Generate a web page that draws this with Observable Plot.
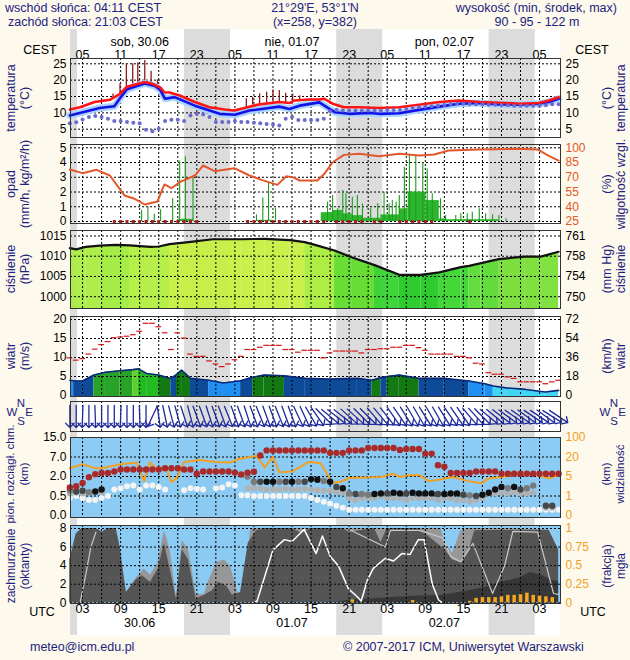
<!DOCTYPE html>
<html lang="pl">
<head>
<meta charset="utf-8">
<script src="https://cdn.jsdelivr.net/npm/d3@7"></script>
<script src="https://cdn.jsdelivr.net/npm/@observablehq/plot@0.6"></script>
<style>
html,body{margin:0;padding:0;background:#fdf9ec;}
#root{position:relative;width:630px;height:660px;background:#fdf9ec;overflow:hidden;font-family:"Liberation Sans",Arial,Helvetica,sans-serif;}
.t{position:absolute;white-space:nowrap;color:#1c2280;font-size:12.5px;line-height:1;}
</style>
</head>
<body>
<div id="root"></div>
<script>
// ---------------- DATA (hours = UTC hours since 30.06 00:00) ----------------
const hours = d3.range(1, 79);
const labelHours = [3, 9, 15, 21, 27, 33, 39, 45, 51, 57, 63, 69, 75];
const cestLabels = ["05","11","17","23","05","11","17","23","05","11","17","23","05"];
const utcLabels  = ["03","09","15","21","03","09","15","21","03","09","15","21","03"];
const gridHours = [3,6,9,12,15,18,21,24,27,30,33,36,39,42,45,48,51,54,57,60,63,66,69,72,75];
const dayHours = [12, 36, 60];
const dayNamesTop = ["sob, 30.06", "nie, 01.07", "pon, 02.07"];
const dayNamesBottom = ["30.06", "01.07", "02.07"];
const nightStart = [1.1, 19.05, 43.05, 67.05];
const nightEnd   = [2.2, 26.3, 50.3, 74.3];

// temperature
const tempHours = [1,2.6,4.9,7.3,8.9,10,12.8,14,15.2,15.9,16.7,18.3,20.7,23,25.4,26.9,28.5,30.9,34,35.6,36.4,38.7,40.3,41.1,42.4,44.2,46.6,49.7,52.9,56,59.2,62.3,65.5,68.6,71.8,74.9,76.5,78];
const tempRed = [11.0,11.7,13.3,14.0,15.8,18.0,19.4,18.9,17.8,16.3,16.2,15.3,13.3,11.7,11.0,10.7,11.5,12.6,13.3,13.0,13.8,14.1,14.1,14.3,12.8,11.7,11.7,11.5,11.7,12.5,13.3,13.8,13.3,13.1,12.8,13.0,13.8,14.8];
const blueHours = [1,5.7,8,8.9,10,12.8,14.4,15.2,16,17.5,20.7,24.6,27,29.3,34,35.6,37.2,40.3,41.9,42.7,45,48.2,49.7,52.9,56,59.2,62.3,65.5,68.6,71.8,74.9,76.5,78];
const tempBlue = [9.2,11.5,12.0,14.5,17.2,19.0,18.2,17.1,14.3,14.8,12.2,9.7,9.4,10.7,11.9,11.2,12.2,13.2,11.2,10.2,9.7,10.0,9.7,9.9,10.9,11.9,12.8,13.0,12.6,12.5,12.8,13.3,14.3];
const dewPoint = [6.8,7.1,8.0,8.7,9.0,8.7,8.2,7.5,7.5,7.2,7.0,6.8,4.8,4.4,5.1,7.5,7.9,7.9,7.5,9.2,
  9.7,9.5,8.7,7.2,7.2,7.2,7.5,7.2,7.2,7.0,6.8,6.6,6.4,6.1,8.2,8.7,7.8,7.8,7.8,7.8,
  8.2,10.5,10.9,10.7,10.7,10.7,10.7,10.7,10.7,10.7,10.9,10.9,10.9,11.2,11.5,11.7,11.9,12.0,12.2,12.4,
  12.6,12.8,12.8,12.7,12.6,12.6,12.5,12.5,12.4,12.3,12.2,12.2,12.2,12.2,12.2,12.3,12.6,12.6];
const stickHours = [7.8,8.9,9.9,10.9,11.7,12.8,13.8,14.8,28.8,29.8,30.9,32,33,34,35,36.1,37.2];
const stickBase  = [14.3,15.8,17.8,18.8,19.2,19.4,19.1,18.6,11.7,12.3,12.7,13.0,13.2,13.3,13.1,13.6,13.9];
const stickTop   = [15.8,18.9,25,25,25.3,26,22.7,20.1,14.3,14.8,15.8,16.3,17.0,16.8,16.0,15.8,15.2];
const tempTicks = [5, 10, 15, 20, 25];

// precipitation & humidity
const humHours = [1,3,5.2,7.3,9.6,11.2,12.8,14.8,15.9,17,18.3,20.7,22,23.8,26.9,29.3,31.2,33.7,35.1,36.1,37.2,40,41.1,42.4,44.2,46.6,49.7,52.9,56,58.4,60.7,65.5,71.8,74.7,76.3,78];
const humidity = [77.9,74.2,77.6,71.8,51.5,48.1,42.3,45.4,62.7,58.9,65,71.8,82,76.2,79.3,71.8,67.4,62.3,71.1,70.1,66.7,66.7,73.5,85.3,92.8,93.9,91.5,93.9,92.2,93.2,97.2,98.3,99,98.3,92.2,87];
const spikeHours = [12.3,13.3,14.3,15.3,17.2,18.3,19.2,20.4,30.4,31.4,32.3,33.4,41.6,42.4,43.2,44,44.5,45.5,46.3,47.1,48.4,49.5,50.5,51.3,51.8,52.4,52.9,53.7,54.5,55.5,56.6,57.3,58.1,59.4,60.2,61.8,62.6,63.6,64.4,65.5,66.5,67.6,68.6,69.7];
const precipMax = [0.75,1.0,0.5,0.8,1.55,4.1,4.4,3.0,0.45,1.6,2.6,0.9,1.31,1.76,0.86,2.1,1.88,1.65,1.76,1.2,0.86,1.2,2.0,1.2,1.42,1.31,1.76,3.68,4.48,4.48,4.0,3.57,1.88,1.54,0.4,0.4,0.52,0.52,0.63,0.86,0.52,0.45,0.4,0.18];
const barStart = [18,30.5,40.6,42.4,44,45.5,47.1,50,52.9,54.3,57.1,59.2,60.3];
const barEnd   = [20.5,33,42.4,44,45.5,47.1,50,52.9,54.3,57.1,59.2,60.3,68.6];
const precipMean = [0.15,0.08,0.6,0.75,0.52,0.4,0.22,0.45,0.86,2.0,1.42,0.18,0.12];
const precipMarkHours = [8,9,10,11,12,13,14,15,16,17,18,19,20,21,29,30,31,32,33,34,35,36,37,38,39,40,41,43,44,45,46,47,49,50,53,54,55,56,57,58,64];
const precipTicks = [0, 1, 2, 3, 4, 5];
const humTicks = [25, 40, 55, 70, 85, 100];

// pressure
const pressHours = [1,2,3.5,5.7,8.2,10.4,13.7,15,16.7,19.7,23.5,27.9,31.7,35.7,38,39.2,42.7,45.5,49,52.9,56.3,59.2,62.6,63.9,65.8,68.6,72.7,75.2,78];
const pressure = [1012.0,1011.7,1012.3,1012.6,1012.8,1012.7,1012.3,1012.4,1013.0,1013.5,1014.2,1014.2,1014.3,1014.0,1013.5,1013.0,1011.4,1009.7,1007.8,1005.4,1005.4,1006.0,1007.3,1007.6,1008.3,1009.3,1009.9,1009.9,1011.1];
const pressClass = ["a","a","a","b","b","c","c","c","d","d","d","d","d","d","e","e","f","f","g","h","h","i","i","j","j","k","k","k"];
const pressTicks = [1000, 1005, 1010, 1015];
const mmHgLabels = ["750", "754", "758", "761"];

// wind
const windHours = [1,1.6,3,4.8,6.6,8.9,10.9,11.8,13.1,15,16.9,17.8,18.6,20,22.9,25.2,27.9,29.8,31.6,34.8,38.1,41.9,46.3,48.6,50,51,52.9,56,59.9,63.9,66.4,67.7,69.7,72.8,75.9,78];
const windSpeed = [4.0,3.9,3.8,5.4,6.1,6.5,6.8,7.0,5.8,5.4,4.5,5.5,6.7,4.5,4.0,3.3,3.9,4.8,5.4,5.2,4.5,4.3,4.5,4.0,4.7,5.0,5.4,4.5,4.5,3.8,3.1,2.5,2.0,1.6,0.9,1.35];
const windClass = ["B","D","D","G","G","G","L","E","E","K","D","K","K","D","B","B","D","K","K","D","D","D","D","K","D","K","K","D","D","B","B","C","C","C","C"];
const gusts = [9.9,9.3,9.7,10.9,12.2,13.4,14.2,15.2,15.4,15.6,
  16.0,16.9,19.0,19.0,18.1,16.5,12.1,16.5,15.1,10.9,
  10.3,10.3,9.1,8.3,7.6,8.3,9.4,10.3,12.1,12.1,
  12.7,13.2,13.2,13.2,12.1,12.1,11.4,11.9,11.9,11.9,
  9.9,11.2,11.7,11.7,11.7,11.7,11.2,12.1,12.1,12.3,
  12.3,12.7,12.7,13.2,13.2,12.6,11.9,10.9,10.9,10.9,
  10.9,10.3,10.3,9.9,8.5,8.3,6.0,5.6,5.6,4.9,
  4.5,3.6,3.6,3.6,3.6,3.1,3.6,4.0];
const windTicks = [0, 5, 10, 15, 20];
const kmhLabels = ["0", "18", "36", "54", "72"];
const windDir = [180,180,182,180,178,180,180,180,182,180,180,178,180,
  205,172,168,
  165,165,162,165,160,160,162,160,160,158,160,160,162,160,
  158,160,160,158,160,160,155,155,150,145,
  135,130,128,128,132,132,135,135,
  140,140,142,145,145,148,150,150,148,150,150,148,145,145,145,140,138,135,
  130,130,128,126,125,125,126,124,124,126,122,124];

// cloud base / visibility
const cloudTop = [1.15,1.25,1.5,1.95,2.6,2.9,2.9,3.3,3.8,3.8,
  3.8,3.8,3.8,3.8,3.8,4.1,4.1,4.1,3.8,3.8,
  2.7,3.3,3.3,3.3,3.3,3.3,3.0,2.5,3.0,3.2,
  7.6,9.7,9.7,9.7,9.7,9.7,9.7,9.7,9.7,9.7,
  9.7,8.7,8.7,8.7,9.7,9.7,9.7,10.7,10.7,10.7,
  10.7,10.7,9.9,10.3,10.3,10.3,8.4,8.4,4.9,4.5,
  2.9,2.9,2.9,2.9,3.3,3.3,3.3,3.3,2.7,2.7,
  2.7,2.7,2.7,2.7,2.7,2.7,2.7,2.7];
const cloudBase = [0.95,0.85,0.9,0.8,0.85,1.0,null,null,
  null,null,null,null,null,null,null,null,null,null,null,null,null,null,null,null,null,null,null,null,
  2.0,1.6,1.6,1.6,1.6,1.6,1.6,1.6,1.6,1.6,1.8,1.75,1.65,1.6,1.2,1.1,
  0.7,0.65,0.65,0.6,0.65,0.7,0.7,0.75,0.7,0.7,0.75,0.7,0.7,0.7,0.65,0.65,0.7,0.7,0.6,0.55,0.5,0.6,
  0.75,1.0,1.2,1.1,1.2,1.0,1.1,1.3,null,0.25,0.25,null];
const cloudBaseTone = [2,1,1,2,0,0,0,0,
  0,0,0,0,0,0,0,0,0,0,0,0,0,0,0,0,0,0,0,0,
  2,2,1,0,0,2,1,0,2,1,0,0,2,0,1,0,
  2,1,2,2,0,0,1,0,0,1,0,0,0,0,1,0,0,0,1,2,1,0,
  0,0,0,2,0,1,2,2,0,1,1,0];
const cloudBase2 = [0.7,0.75,0.7,0.75,0.8,0.8,
  null,null,null,null,null,null,null,null,null,null,null,null,null,null,null,null,null,null,null,null,null,null,
  1.1,1.1,1.1,1.0,1.0,1.0,1.05,1.0,1.0,1.05,1.0,0.95,0.9,0.9,0.8,0.75,
  0.45,0.4,0.45,0.45,0.45,0.5,0.45,0.45,0.45,0.4,0.45,0.45,0.45,0.45,0.4,0.45,0.45,0.4,0.4,0.35,0.4,0.45,
  0.65,0.7,0.75,0.7,0.8,0.7,0.7,0.75,null,0.2,0.2,null];
const cloudBase3 = [0.45,0.5,0.45,0.4,0.4,0.45,0.5,
  1.0,1.1,1.25,1.3,1.0,1.3,1.3,1.2,1.0,null,null,0.95,1.1,1.05,1.0,null,1.1,1.15,1.4,1.3,0.55,
  0.55,0.5,0.5,0.5,0.5,0.5,0.5,0.5,0.5,0.5,
  0.45,0.4,0.35,0.3,0.25,0.2,
  0.15,0.15,0.15,0.15,0.15,0.15,0.15,0.15,0.15,0.15,0.15,0.15,0.15,0.15,0.15,0.15,0.15,
  0.15,0.15,0.15,0.15,0.15,0.15,0.15,0.15,0.15,0.15,0.15,0.15,0.15,0.15,0.15,0.15,0.15];
const baseTicks = [0, 0.5, 2, 7, 15];
const baseLabels = ["0.0", "0.5", "2.0", "7.0", "15.0"];
const visHours = [1,3,5,6,9,11.5,12.7,13.6,15,16,17,17.8,19,21.5,24,26.3,27.8,30.4,31.7,33,34,36,38.6,40.5,42.4,43.7,45,50,52,53,54.3,56.2,57.5,59.4,61.3,63.8,65.8,67,69.6,72,74.6,76.6,78];
const visibility = [11.3,14.5,11.3,11.3,14.5,15.8,4.05,15.8,9.5,13.3,3.9,4.6,16.2,17.7,16.2,15.8,18.7,24,12,20.8,8.3,8.8,16.2,15.2,3.7,3.9,4.7,4.9,7.1,4.9,5.9,5.9,4.05,4.4,4.9,4.05,3.6,4.6,5.0,7.1,6.4,4.6,6.4];
const visTicks = [0, 1, 5, 20, 100];
const visLabels = ["0", "1", "5", "20", "100"];

// cloud cover / fog
const totalHours = [1,2,2.9,5.1,6.1,7,8.3,8.9,9.9,11.5,12.7,13.7,14.9,15.9,16.8,17.8,18.7,19.7,20.9,22.2,22.8,24.1,25.4,26.3,27.6,28.5,29.5,30.4,40,45,50,55,59.5,60.1,61.3,62.6,63.9,64.8,70,76.5,78];
const totalCover = [4.6,7.4,8,8,7.6,8,8,6,1.1,2.7,3.6,3.0,4.3,7.75,5.7,0.4,6.7,5.7,0.9,0.9,2.2,4.3,4.6,3.9,0.8,1.8,8,8,8,8,8,8,8,6.5,5.3,7.75,8,8,8,7.8,5.7];
const midHours = [1,2,2.9,5.1,6.1,7,8.3,8.9,9.9,11.5,12.4,13.7,14.9,15.9,16.8,17.8,18.7,19.7,20.9,22.2,23.5,24.4,25.7,26.6,27.9,29.1,30.4,31.7,36,37.5,39,44,45,49,50,51,56,60.1,61.3,62.6,63.9,64.8,70,76.5,78];
const midCover = [4.6,7.4,8,8,7.6,8,8,6,1.1,2.5,2.9,2.2,3.6,6.4,3.6,0.4,5.7,4.6,0.4,0.8,1.3,2.2,1.8,0.8,1.1,6.4,7.75,8,8,7.5,8,8,7.6,8,6.5,8,8,5.7,4.6,4.3,5.7,7.75,7.8,7.8,5.7];
const lowHours = [43,45,50,55,60,63,66,69,72,73.5,75.5,77,78];
const lowCover = [0,0.3,0.5,0.7,0.8,1.2,1.6,2.2,2.7,3.3,2.9,2.4,2.3];
const wlHours = [29.8,30.5,33,34.8,36,37.9,39.8,40.8,42,43.3,44.9,46.2,46.9,47.9,48.8,50.7,52,53.3,54.6,55.9,56.8,58.1,59.1,59.7];
const whiteLine = [0,0.2,5.7,6.8,6.6,7.9,5.3,7.2,5,4,1.5,0.7,0.2,2.5,3.7,4.8,4.5,5.3,5.2,6.8,6.8,2,0.3,0];
const lg1Hours = [2.6,3.5,4.3,5.1];
const greyLine1 = [0,3,6,7.6];
const lg2Hours = [45,50.7,51.5,56,59.7,61,62.6,64.5,67.6,69.5,70.8,74.7,77.2,78];
const greyLine2 = [7.9,6.0,7.8,7.8,7.0,5.0,4.4,6.4,1.0,4.0,7.7,7.6,1.0,0.9];
const fogHours = [45.5,55,64,65,66,67,68,69,70,71,72,73,74,75,76,77];
const fogFrac = [0.04,0.03,0.02,0.06,0.07,0.07,0.07,0.08,0.1,0.1,0.11,0.13,0.1,0.09,0.08,0.07];
const coverTicks = [0, 2, 4, 6, 8];
const fogTicks = [0, 0.25, 0.5, 0.75, 1];
const fogLabels = ["0", "0.25", "0.5", "0.75", "1"];

// ---------------- RENDERING ----------------
const FONT = '"Liberation Sans", Arial, Helvetica, sans-serif';
const root = document.getElementById("root");
const X_DOMAIN = [1.1, 78.3];
const intFmt = d3.format("d");

function txt(str, x, y, o = {}) {
  const d = document.createElement("div");
  d.className = "t";
  d.textContent = str;
  d.style.left = x + "px";
  d.style.top = y + "px";
  const tx = o.anchor === "middle" ? "-50%" : o.anchor === "end" ? "-100%" : "0";
  d.style.transform = o.rotate ? `translate(-50%,-50%) rotate(${o.rotate}deg)` : `translate(${tx},-50%)`;
  if (o.color) d.style.color = o.color;
  if (o.size) d.style.fontSize = o.size + "px";
  root.appendChild(d);
}
function panel(top, height, opts) {
  const svg = Plot.plot({
    width: 630, height, marginLeft: 70, marginRight: 70, marginTop: 0, marginBottom: 0,
    style: {background: "transparent", overflow: "visible", fontFamily: FONT, fontSize: "12px", color: "#000"},
    x: {domain: X_DOMAIN, axis: null},
    ...opts
  });
  svg.style.position = "absolute";
  svg.style.left = "0px";
  svg.style.top = top + "px";
  root.appendChild(svg);
  return svg;
}
const dotted = {stroke: "#000", strokeOpacity: 1, strokeWidth: 1, strokeDasharray: "2,2"};
const gX = () => Plot.gridX({ticks: gridHours, ...dotted});
const gY = (ticks) => Plot.gridY({ticks, ...dotted});
const frame = () => Plot.frame({stroke: "#333", strokeWidth: 1});
const axL = (ticks, o = {}) => Plot.axisY({anchor: "left", ticks, tickSize: 0, tickPadding: 4, label: null, tickFormat: intFmt, ...o});
const axR = (ticks, o = {}) => Plot.axisY({anchor: "right", ticks, tickSize: 0, tickPadding: 5, label: null, tickFormat: intFmt, ...o});
const zip = (xs, ys) => xs.map((h, i) => ({h, v: ys[i]})).filter(d => d.v != null);
function segs(xs, ys, cls) {
  const out = [];
  for (let i = 0; i < xs.length - 1; i++) {
    out.push({s: i, h: xs[i], v: ys[i], c: cls[i]});
    out.push({s: i, h: xs[i + 1], v: ys[i + 1], c: cls[i]});
  }
  return out;
}

// background column with night bands and time labels
panel(29, 606, {
  marks: [
    Plot.frame({fill: "#ffffff", stroke: null}),
    Plot.rect(nightStart.map((s, i) => ({s, e: nightEnd[i]})), {x1: "s", x2: "e", fill: "#dcdcdc"}),
    Plot.text(labelHours, {x: d => d, text: (d, i) => cestLabels[i], frameAnchor: "top", dy: 21, fontSize: 12.5, fill: "#000"}),
    Plot.text(dayHours, {x: d => d, text: (d, i) => dayNamesTop[i], frameAnchor: "top", dy: 8, fontSize: 12.5, fill: "#000"}),
    Plot.text(labelHours, {x: d => d, text: (d, i) => utcLabels[i], frameAnchor: "bottom", dy: -23, fontSize: 12.5, fill: "#000"}),
    Plot.text(dayHours, {x: d => d, text: (d, i) => dayNamesBottom[i], frameAnchor: "bottom", dy: -9, fontSize: 12.5, fill: "#000"})
  ]
});

// 1. temperature
panel(58, 79, {
  y: {domain: [5, 25], range: [70.7, 5.3]},
  marks: [
    gX(), gY(tempTicks),
    Plot.ruleX(stickHours.map((h, i) => ({h, b: stickBase[i], t: stickTop[i]})), {x: "h", y1: "b", y2: "t", stroke: "#8a1c1c", strokeWidth: 1.3}),
    Plot.line(zip(blueHours, tempBlue), {x: "h", y: "v", stroke: "#a9d3ff", strokeWidth: 7}),
    Plot.line(zip(blueHours, tempBlue), {x: "h", y: "v", stroke: "#1212e8", strokeWidth: 2.6}),
    Plot.line(zip(tempHours, tempRed), {x: "h", y: "v", stroke: "#ff1414", strokeWidth: 2.6}),
    Plot.dot(zip(hours, dewPoint), {x: "h", y: "v", r: 2, fill: "#6a6ad0", stroke: null}),
    frame(), axL(tempTicks), axR(tempTicks)
  ]
});

// 2. precipitation + humidity
panel(144, 79, {
  y: {domain: [0, 5], range: [77, 3.3]},
  marks: [
    gX(), gY(precipTicks),
    Plot.rect(barStart.map((s, i) => ({s, e: barEnd[i], v: precipMean[i]})), {x1: "s", x2: "e", y1: 0, y2: "v", fill: "#2db52d"}),
    Plot.ruleX(zip(spikeHours, precipMax), {x: "h", y1: 0, y2: "v", stroke: "#1c9c1c", strokeWidth: 1.1}),
    Plot.dot(precipMarkHours, {x: d => d, y: 0, symbol: "square", r: 1.7, fill: "#a82020", stroke: null}),
    frame(), axL(precipTicks)
  ]
});
panel(144, 79, {
  y: {domain: [25, 100], range: [77, 3.3]},
  marks: [
    Plot.line(zip(humHours, humidity), {x: "h", y: "v", stroke: "#e4572a", strokeWidth: 2}),
    axR(humTicks, {color: "#e4572a"})
  ]
});

// 3. pressure
panel(230, 78, {
  y: {domain: [1000, 1015], range: [66.2, 5.5]},
  color: {type: "ordinal", domain: ["a","b","c","d","e","f","g","h","i","j","k"],
          range: ["#a8ec3c","#9eea36","#b0ee3a","#c6f03c","#a6ec34","#5cdc26","#30d22a","#1cc81c","#34d428","#56da2c","#74e030"]},
  marks: [
    Plot.areaY(segs(pressHours, pressure, pressClass), {x: "h", y1: 990, y2: "v", z: "s", fill: "c", fillOpacity: 0.92, clip: true}),
    gX(), gY(pressTicks),
    Plot.line(zip(pressHours, pressure), {x: "h", y: "v", stroke: "#111", strokeWidth: 2.2}),
    frame(), axL(pressTicks),
    axR(pressTicks, {tickFormat: d => mmHgLabels[pressTicks.indexOf(d)]})
  ]
});

// 4. wind speed + gusts
panel(316, 80, {
  y: {domain: [0, 20], range: [79, 3]},
  color: {type: "ordinal", domain: ["B","D","G","L","E","K","C"],
          range: ["#1f8ff2","#0d4b98","#27a327","#5fcf30","#22bb22","#137a13","#40d4f5"]},
  marks: [
    Plot.areaY(segs(windHours, windSpeed, windClass), {x: "h", y1: -1, y2: "v", z: "s", fill: "c", clip: true}),
    gX(), gY([5, 10, 15, 20]),
    Plot.line(zip(windHours, windSpeed), {x: "h", y: "v", stroke: "#0a2a78", strokeWidth: 1.6}),
    Plot.ruleY(zip(hours, gusts), {y: "v", x1: d => d.h - 0.45, x2: d => d.h + 0.45, stroke: "#d41616", strokeWidth: 1.2}),
    frame(), axL(windTicks),
    axR(windTicks, {tickFormat: d => kmhLabels[windTicks.indexOf(d)]})
  ]
});

// 5. wind direction
panel(401, 30, {
  marks: [
    gX(),
    Plot.vector(zip(hours, windDir), {x: "h", rotate: "v", length: 22, anchor: "middle", frameAnchor: "middle", stroke: "#1f2b9b", strokeWidth: 1.3}),
    frame()
  ]
});

// 6. cloud base (left, non-linear km scale) + visibility (right)
const basePos = d3.scaleLinear().domain(baseTicks).range([0, 1, 2, 3, 4]);
const visPos = d3.scaleLinear().domain(visTicks).range([0, 1, 2, 3, 4]);
const levels = [0, 1, 2, 3, 4];
panel(437, 80, {
  y: {domain: [0, 4], range: [78, 0]},
  color: {type: "ordinal", domain: [0, 1, 2], range: ["#111111", "#474747", "#7a7a7a"]},
  marks: [
    Plot.frame({fill: "#86c8f2", fillOpacity: 0.95, stroke: null}),
    gX(), gY([1, 2, 3]),
    Plot.line(zip(visHours, visibility), {x: "h", y: d => visPos(d.v), stroke: "#f2a024", strokeWidth: 2}),
    Plot.dot(zip(hours, cloudBase3), {x: "h", y: d => basePos(d.v), r: 3, fill: "#f4f4f4", stroke: null}),
    Plot.dot(zip(hours, cloudBase2), {x: "h", y: d => basePos(d.v), r: 3, fill: "#b0b0b0", stroke: null}),
    Plot.dot(hours.map((h, i) => ({h, v: cloudBase[i], t: cloudBaseTone[i]})).filter(d => d.v != null), {x: "h", y: d => basePos(d.v), r: 3.2, fill: "t", stroke: null}),
    Plot.dot(zip(hours, cloudTop), {x: "h", y: d => basePos(d.v), r: 3.2, fill: "#a82a2a", stroke: null}),
    frame(),
    axL(levels, {tickFormat: d => baseLabels[d]}),
    axR(levels, {tickFormat: d => visLabels[d], color: "#f2a024"})
  ]
});

// 7. cloud cover + fog
panel(525, 78, {
  y: {domain: [0, 8], range: [77.3, 3]},
  marks: [
    Plot.frame({fill: "#86c8f2", fillOpacity: 0.95, stroke: null}),
    Plot.areaY(zip(totalHours, totalCover), {x: "h", y: "v", fill: "#979797"}),
    Plot.areaY(zip(midHours, midCover), {x: "h", y: "v", fill: "#555555"}),
    Plot.areaY(zip(lowHours, lowCover), {x: "h", y: "v", fill: "#373737"}),
    Plot.line(zip(lg1Hours, greyLine1), {x: "h", y: "v", stroke: "#c8c8c8", strokeWidth: 1.2}),
    Plot.line(zip(lg2Hours, greyLine2), {x: "h", y: "v", stroke: "#c8c8c8", strokeWidth: 1.2}),
    Plot.line(zip(wlHours, whiteLine), {x: "h", y: "v", stroke: "#ffffff", strokeWidth: 1.5}),
    gX(), gY(coverTicks),
    frame(), axL(coverTicks)
  ]
});
panel(525, 78, {
  y: {domain: [0, 1], range: [77.3, 3]},
  marks: [
    Plot.ruleX(zip(fogHours, fogFrac), {x: "h", y1: 0, y2: "v", stroke: "#f5a81f", strokeWidth: 3.5}),
    axR(fogTicks, {tickFormat: d => fogLabels[fogTicks.indexOf(d)], color: "#f2a024"})
  ]
});

// ---------------- TEXT ----------------
txt("wschód słońca: 04:11 CEST", 5, 8);
txt("zachód słońca: 21:03 CEST", 8, 22);
txt("21°29'E, 53°1'N", 315, 8, {anchor: "middle"});
txt("(x=258,  y=382)", 315, 22, {anchor: "middle"});
txt("wysokość (min, środek, max)", 617, 8, {anchor: "end"});
txt("90 - 95 - 122 m", 537, 22, {anchor: "middle"});
txt("CEST", 40, 50, {anchor: "middle", color: "#000"});
txt("CEST", 592, 50, {anchor: "middle", color: "#000"});
txt("UTC", 42, 612, {anchor: "middle", color: "#000"});
txt("UTC", 593, 612, {anchor: "middle", color: "#000"});
txt("meteo@icm.edu.pl", 30, 647);
txt("© 2007-2017 ICM, Uniwersytet Warszawski", 343, 647);

const titles = [
  [97.5, "temperatura", "(°C)", "(°C)", "temperatura", 12.5],
  [183.5, "opad", "(mm/h, kg/m²/h)", "(%)", "wilgotność wzgl.", 12.5],
  [269, "ciśnienie", "(hPa)", "(mm Hg)", "ciśnienie", 12.5],
  [356, "wiatr", "(m/s)", "(km/h)", "wiatr", 12.5],
  [474, "pion. rozciągł. chm.", "(km)", "(km)", "widzialność", 11.5],
  [566, "zachmurzenie", "(oktanty)", "(frakcja)", "mgła", 12]
];
for (const [cy, l1, l2, r1, r2, fs] of titles) {
  txt(l1, 11, cy, {rotate: -90, size: fs});
  txt(l2, 25, cy, {rotate: -90, size: fs});
  txt(r1, 607, cy, {rotate: -90, size: fs});
  txt(r2, 621, cy, {rotate: -90, size: fs});
}
for (const cx of [20, 613]) {
  txt("N", cx + 1, 404, {anchor: "middle", size: 11.5});
  txt("W", cx - 8, 413, {anchor: "middle", size: 11.5});
  txt("E", cx + 9, 413, {anchor: "middle", size: 11.5});
  txt("S", cx + 1, 422, {anchor: "middle", size: 11.5});
}
</script>
</body>
</html>
